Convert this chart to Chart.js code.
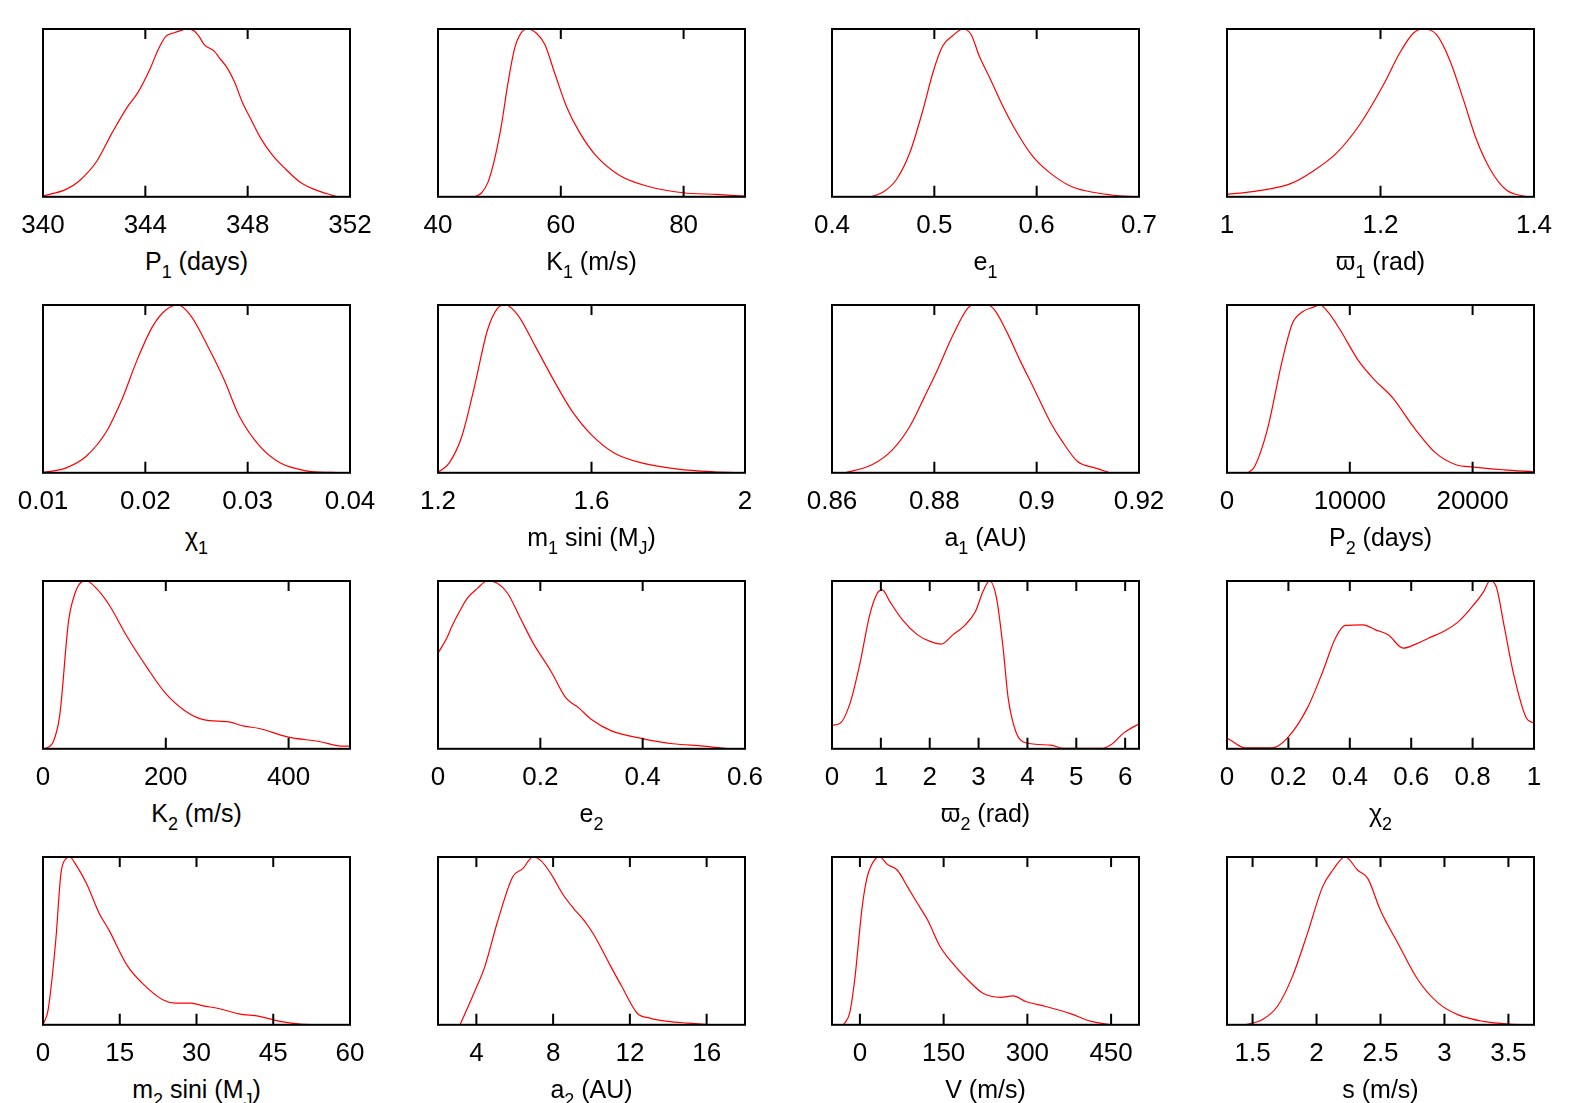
<!DOCTYPE html>
<html>
<head>
<meta charset="utf-8">
<script src="https://cdn.jsdelivr.net/npm/chart.js@4.4.0/dist/chart.umd.min.js"></script>
<style>
  html, body { margin: 0; padding: 0; background: #fff; }
  body { width: 1578px; height: 1103px; position: relative; overflow: hidden; font-family: "Liberation Sans", Arial, sans-serif; }
  .panel { position: absolute; }
  .title { position: absolute; width: 307px; text-align: center; font-size: 25px; line-height: 30px; color: #000; white-space: nowrap; }
  .title sub { font-size: 18px; vertical-align: -8px; line-height: 0; }
</style>
</head>
<body>
<script>
// Densidades posteriores (normalizadas al pico = 1)
const P1_x = [340, 340.9, 341.4, 342.1, 342.7, 343.3, 343.7, 344.2, 344.5, 344.8, 345.1, 345.4, 345.6, 345.9, 346.1, 346.3, 346.7, 346.9, 347.2, 347.5, 347.8, 348.1, 348.5, 349.0, 349.5, 350.0, 350.6, 351.1, 351.5];
const P1_y = [0.004, 0.044, 0.093, 0.212, 0.381, 0.536, 0.619, 0.768, 0.877, 0.956, 0.976, 0.992, 1.0, 0.99, 0.956, 0.907, 0.867, 0.827, 0.768, 0.679, 0.56, 0.47, 0.351, 0.242, 0.163, 0.093, 0.044, 0.018, 0];
const P1_ticks = [340, 344, 348, 352];

const K1_x = [46.0, 47.1, 48.1, 49.2, 50.3, 51.4, 52.5, 53.6, 54.6, 56.0, 57.4, 59.0, 60.9, 63.1, 65.8, 69.6, 74.4, 79.9, 85.3, 90];
const K1_y = [0, 0.024, 0.083, 0.222, 0.421, 0.679, 0.887, 0.98, 1.0, 0.976, 0.907, 0.738, 0.54, 0.381, 0.242, 0.127, 0.06, 0.024, 0.014, 0.004];
const K1_ticks = [40, 60, 80];

const e1_x = [0.438, 0.450, 0.463, 0.476, 0.489, 0.499, 0.508, 0.518, 0.528, 0.536, 0.544, 0.555, 0.567, 0.580, 0.596, 0.612, 0.635, 0.658, 0.684, 0.7];
const e1_y = [0, 0.028, 0.103, 0.262, 0.52, 0.748, 0.897, 0.96, 1.0, 0.966, 0.837, 0.698, 0.54, 0.391, 0.242, 0.147, 0.058, 0.024, 0.004, 0];
const e1_ticks = [0.4, 0.5, 0.6, 0.7];

const w1_x = [1.0, 1.038, 1.082, 1.112, 1.143, 1.173, 1.204, 1.225, 1.243, 1.256, 1.273, 1.290, 1.308, 1.325, 1.343, 1.364, 1.39];
const w1_y = [0.014, 0.034, 0.077, 0.153, 0.262, 0.431, 0.669, 0.857, 0.976, 1.0, 0.966, 0.817, 0.579, 0.341, 0.163, 0.04, 0];
const w1_ticks = [1, 1.2, 1.4];

const chi1_x = [0.01, 0.0122, 0.0142, 0.0162, 0.0177, 0.0192, 0.0207, 0.0220, 0.0232, 0.0245, 0.0262, 0.0277, 0.0292, 0.0312, 0.0332, 0.0357, 0.0382, 0.04];
const chi1_y = [0.002, 0.028, 0.097, 0.246, 0.435, 0.673, 0.871, 0.97, 1.0, 0.931, 0.742, 0.554, 0.335, 0.157, 0.058, 0.012, 0.002, 0];
const chi1_ticks = [0.01, 0.02, 0.03, 0.04];

const m1_x = [1.2, 1.229, 1.262, 1.295, 1.329, 1.355, 1.375, 1.408, 1.454, 1.501, 1.547, 1.6, 1.660, 1.733, 1.825, 1.918, 2.0];
const m1_y = [0.002, 0.058, 0.216, 0.514, 0.851, 0.98, 1.0, 0.94, 0.752, 0.554, 0.375, 0.226, 0.117, 0.058, 0.022, 0.006, 0];
const m1_ticks = [1.2, 1.6, 2];

const a1_x = [0.8625, 0.8678, 0.8718, 0.8752, 0.8781, 0.8806, 0.8835, 0.8865, 0.8877, 0.8904, 0.8918, 0.8943, 0.8967, 0.8996, 0.9026, 0.905, 0.908, 0.9115, 0.9144];
const a1_y = [0, 0.048, 0.137, 0.276, 0.454, 0.613, 0.812, 0.98, 1.0, 1.0, 0.97, 0.831, 0.673, 0.494, 0.306, 0.187, 0.067, 0.028, 0];
const a1_ticks = [0.86, 0.88, 0.9, 0.92];

const P2_x = [1700, 2250, 3280, 4510, 5330, 6150, 6970, 7580, 8200, 9220, 10660, 11890, 13530, 15160, 17010, 18650, 20080, 22540, 25000];
const P2_y = [0, 0.038, 0.256, 0.673, 0.891, 0.96, 0.986, 1.0, 0.96, 0.851, 0.673, 0.563, 0.444, 0.276, 0.117, 0.048, 0.034, 0.018, 0.006];
const P2_ticks = [0, 10000, 20000];

const K2_x = [2.5, 16.6, 27.4, 41.5, 52.2, 62.2, 70.5, 87, 107.8, 136.8, 170, 199, 232.2, 261.2, 302.7, 327.5, 352.4, 398, 451.9, 485, 500];
const K2_y = [0, 0.042, 0.204, 0.758, 0.927, 0.992, 1.0, 0.956, 0.857, 0.669, 0.481, 0.333, 0.224, 0.174, 0.16, 0.135, 0.121, 0.071, 0.042, 0.016, 0.016];
const K2_ticks = [0, 200, 400];

const e2_x = [0, 0.017, 0.027, 0.042, 0.057, 0.077, 0.096, 0.116, 0.136, 0.161, 0.186, 0.221, 0.250, 0.275, 0.300, 0.340, 0.399, 0.459, 0.519, 0.568];
const e2_y = [0.57, 0.659, 0.729, 0.818, 0.897, 0.956, 1.0, 0.986, 0.927, 0.778, 0.63, 0.461, 0.303, 0.244, 0.174, 0.105, 0.061, 0.03, 0.016, 0];
const e2_ticks = [0, 0.2, 0.4, 0.6];

const w2_x = [0, 0.154, 0.36, 0.566, 0.772, 0.927, 1.03, 1.184, 1.442, 1.751, 2.008, 2.235, 2.472, 2.729, 2.935, 3.09, 3.224, 3.368, 3.502, 3.605, 3.759, 3.965, 4.48, 4.737, 5.51, 5.716, 5.973, 6.283];
const w2_y = [0.141, 0.149, 0.263, 0.501, 0.798, 0.927, 0.947, 0.877, 0.768, 0.679, 0.64, 0.624, 0.679, 0.739, 0.818, 0.937, 1.0, 0.897, 0.6, 0.303, 0.105, 0.036, 0.022, 0.002, 0.002, 0.026, 0.095, 0.149];
const w2_ticks = [0, 1, 2, 3, 4, 5, 6];

const chi2_x = [0, 0.016, 0.057, 0.148, 0.197, 0.262, 0.312, 0.353, 0.385, 0.443, 0.484, 0.525, 0.574, 0.615, 0.656, 0.705, 0.754, 0.803, 0.836, 0.856, 0.877, 0.902, 0.934, 0.975, 1.0];
const chi2_y = [0.065, 0.046, 0.006, 0.006, 0.065, 0.244, 0.461, 0.659, 0.735, 0.739, 0.709, 0.679, 0.6, 0.624, 0.659, 0.699, 0.758, 0.857, 0.937, 1.0, 0.966, 0.739, 0.442, 0.184, 0.154];
const chi2_ticks = [0, 0.2, 0.4, 0.6, 0.8, 1];

const m2_x = [0, 1.0, 2.5, 3.5, 4.5, 5.2, 6.5, 8.5, 11.0, 12.9, 16.4, 19.4, 23.4, 25.9, 28.9, 31.3, 34.3, 38.3, 42.3, 46.3, 50.3, 53.2];
const m2_y = [0, 0.089, 0.505, 0.901, 0.99, 1.0, 0.95, 0.842, 0.663, 0.564, 0.356, 0.248, 0.149, 0.129, 0.129, 0.113, 0.097, 0.065, 0.05, 0.02, 0.004, 0];
const m2_ticks = [0, 15, 30, 45, 60];

const a2_x = [3.15, 3.91, 4.44, 5.10, 5.89, 6.42, 6.95, 7.35, 7.88, 8.54, 9.07, 9.60, 10.13, 10.92, 11.58, 12.38, 13.04, 13.97, 15.03, 16.36];
const a2_y = [0, 0.198, 0.347, 0.614, 0.881, 0.931, 1.0, 0.98, 0.901, 0.772, 0.693, 0.624, 0.535, 0.366, 0.228, 0.069, 0.04, 0.02, 0.01, 0];
const a2_ticks = [4, 8, 12, 16];

const V_x = [-29.3, -18.4, -9.4, 4.1, 13.1, 26.6, 35.6, 49.2, 67.2, 85.3, 103.3, 121.3, 143.9, 166.4, 193.5, 220.5, 252.1, 274.6, 297.2, 333.2, 378.3, 414.4, 450.5];
const V_y = [0, 0.069, 0.267, 0.703, 0.881, 0.984, 1.0, 0.956, 0.921, 0.822, 0.723, 0.624, 0.465, 0.366, 0.267, 0.188, 0.164, 0.172, 0.139, 0.109, 0.065, 0.02, 0];
const V_ticks = [0, 150, 300, 450];

const s_x = [1.438, 1.575, 1.693, 1.811, 1.929, 2.047, 2.126, 2.224, 2.322, 2.401, 2.499, 2.637, 2.794, 2.952, 3.109, 3.306, 3.503, 3.7];
const s_y = [0, 0.03, 0.109, 0.287, 0.545, 0.822, 0.921, 1.0, 0.921, 0.871, 0.683, 0.485, 0.267, 0.129, 0.059, 0.02, 0.004, 0];
const s_ticks = [1.5, 2, 2.5, 3, 3.5];

// Rangos del eje x de cada panel
const xMin = [340, 40, 0.4, 1, 0.01, 1.2, 0.86, 0, 0, 0, 0, 0, 0, 2, -50, 1.3];
const xMax = [352, 90, 0.7, 1.4, 0.04, 2, 0.92, 25000, 500, 0.6, 6.2832, 1, 60, 18, 500, 3.7];

const axisTitles = [
    'P<sub>1</sub> (days)', 'K<sub>1</sub> (m/s)', 'e<sub>1</sub>', 'ϖ<sub>1</sub> (rad)',
    'χ<sub>1</sub>', 'm<sub>1</sub> sini (M<sub>J</sub>)', 'a<sub>1</sub> (AU)', 'P<sub>2</sub> (days)',
    'K<sub>2</sub> (m/s)', 'e<sub>2</sub>', 'ϖ<sub>2</sub> (rad)', 'χ<sub>2</sub>',
    'm<sub>2</sub> sini (M<sub>J</sub>)', 'a<sub>2</sub> (AU)', 'V (m/s)', 's (m/s)'
];

const seriesX = [P1_x, K1_x, e1_x, w1_x, chi1_x, m1_x, a1_x, P2_x, K2_x, e2_x, w2_x, chi2_x, m2_x, a2_x, V_x, s_x];
const seriesY = [P1_y, K1_y, e1_y, w1_y, chi1_y, m1_y, a1_y, P2_y, K2_y, e2_y, w2_y, chi2_y, m2_y, a2_y, V_y, s_y];
const tickSets = [P1_ticks, K1_ticks, e1_ticks, w1_ticks, chi1_ticks, m1_ticks, a1_ticks, P2_ticks, K2_ticks, e2_ticks, w2_ticks, chi2_ticks, m2_ticks, a2_ticks, V_ticks, s_ticks];

// Posicion de las cajas en la pagina
const colLeft = [43, 438, 832, 1227];
const rowTop = [29, 305, 581, 857];
const boxW = 307, boxH = 168;
const padX = 50, padTop = 5, tickPad = 5;

// Marco negro y marcas hacia dentro (arriba y abajo), estilo gnuplot
const framePlugin = {
    id: 'frame',
    afterDraw(chart) {
        const { ctx, chartArea: a } = chart;
        const x = chart.scales.x;
        ctx.save();
        ctx.strokeStyle = '#000';
        ctx.lineWidth = 2;
        x.ticks.forEach(t => {
            const px = x.getPixelForValue(t.value);
            ctx.beginPath();
            ctx.moveTo(px, a.top);
            ctx.lineTo(px, a.top + 10);
            ctx.moveTo(px, a.bottom);
            ctx.lineTo(px, a.bottom - 11);
            ctx.stroke();
        });
        ctx.strokeRect(a.left, a.top, a.right - a.left, a.bottom - a.top);
        ctx.restore();
    }
};

seriesX.forEach((xs, i) => {
    const r = Math.floor(i / 4), c = i % 4;
    const wrap = document.createElement('div');
    wrap.className = 'panel';
    const canvas = document.createElement('canvas');
    const cw = boxW + 2 * padX;
    canvas.width = cw;
    canvas.height = padTop + boxH + 50;
    wrap.appendChild(canvas);
    document.body.appendChild(wrap);

    const ticks = tickSets[i];
    const chart = new Chart(canvas.getContext('2d'), {
        type: 'line',
        data: {
            datasets: [{
                data: xs.map((v, k) => ({ x: v, y: seriesY[i][k] })),
                borderColor: '#ff0000',
                borderWidth: 1.2,
                pointRadius: 0,
                fill: false,
                cubicInterpolationMode: 'monotone'
            }]
        },
        options: {
            responsive: false,
            maintainAspectRatio: false,
            animation: false,
            events: [],
            layout: { padding: { left: padX, right: padX, top: padTop, bottom: 0 } },
            plugins: { legend: { display: false }, tooltip: { enabled: false } },
            scales: {
                x: {
                    type: 'linear',
                    min: xMin[i],
                    max: xMax[i],
                    grid: { display: false },
                    border: { display: false },
                    afterBuildTicks: scale => { scale.ticks = ticks.map(v => ({ value: v })); },
                    ticks: {
                        autoSkip: false,
                        maxRotation: 0,
                        padding: tickPad,
                        color: '#000',
                        font: { family: 'Liberation Sans', size: 26 },
                        callback: v => String(v)
                    }
                },
                y: { display: false, min: 0, max: 1 }
            }
        },
        plugins: [framePlugin]
    });

    // ajustar la altura para que la caja mida exactamente boxH
    let a = chart.chartArea;
    const extra = boxH - (a.bottom - a.top);
    if (Math.abs(extra) > 0.5) {
        chart.resize(cw, Math.round(canvas.height + extra));
        a = chart.chartArea;
    }
    wrap.style.left = (colLeft[c] - a.left) + 'px';
    wrap.style.top = (rowTop[r] - a.top) + 'px';

    const t = document.createElement('div');
    t.className = 'title';
    t.innerHTML = axisTitles[i];
    t.style.left = colLeft[c] + 'px';
    t.style.top = (rowTop[r] + boxH + 64 - 15) + 'px';
    document.body.appendChild(t);
});
</script>
</body>
</html>
